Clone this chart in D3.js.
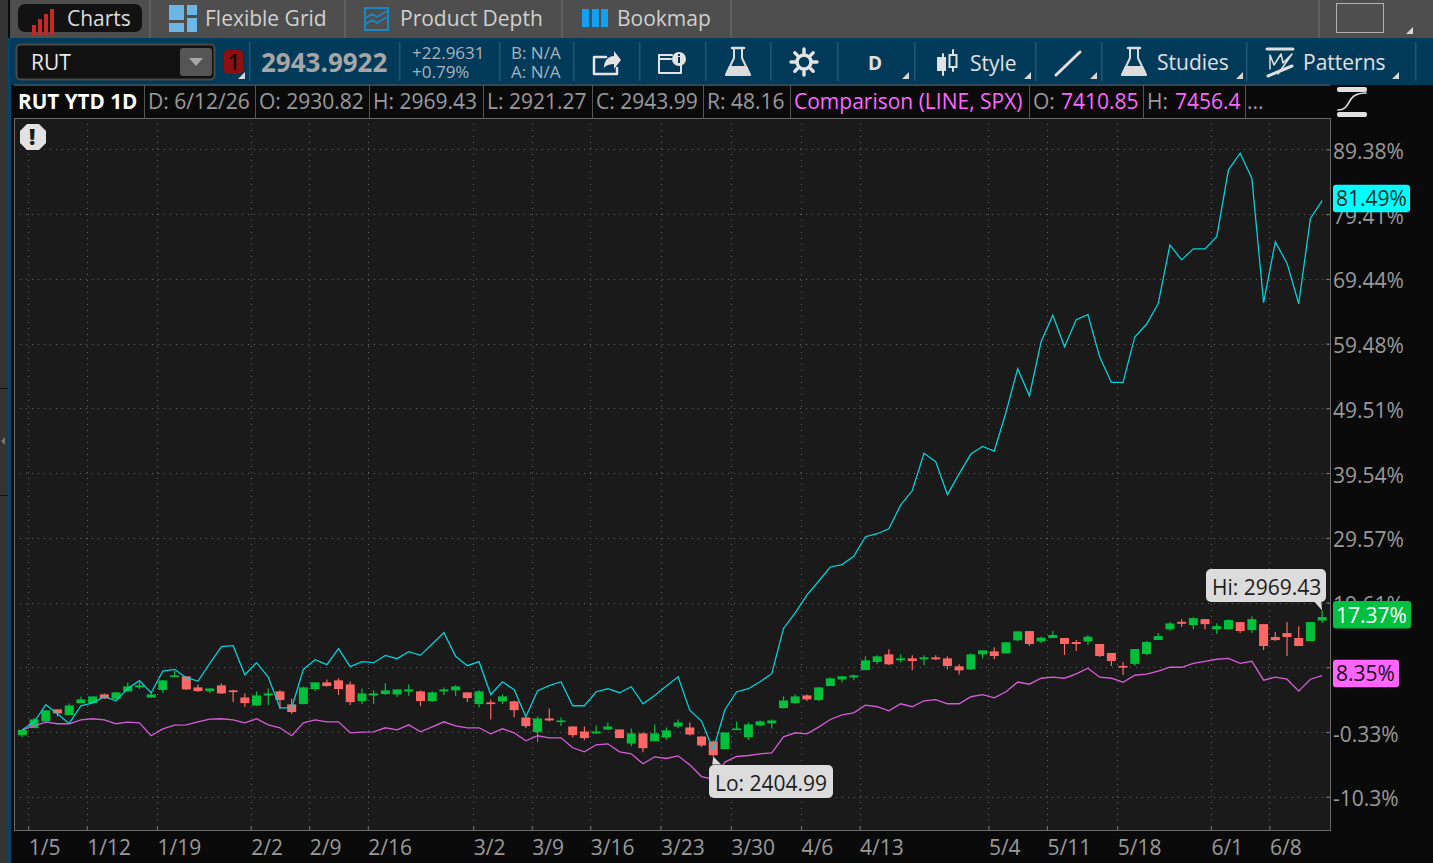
<!DOCTYPE html>
<html lang="en">
<head>
  <meta charset="UTF-8">
  <title>RUT YTD 1D</title>
  <script src="https://d3js.org/d3.v7.min.js"></script>
  <style>
    html, body { margin: 0; padding: 0; background: #0a0a0a; overflow: hidden; }
    svg { display: block; }
    text { font-family: "Open Sans", "Noto Sans", sans-serif; }
  </style>
</head>
<body>
  <div id="chart"></div>

  <script>
    // Candles, in percent from the start of the year (the axis is a percent axis)
    const opens = [-0.81,0.27,1.30,3.15,2.27,4.12,4.12,5.46,4.79,5.92,6.54,4.98,6.13,8.13,8.24,6.54,5.97,6.85,6.08,4.98,3.76,5.30,5.92,3.92,3.97,6.28,7.31,7.62,7.00,4.43,5.30,5.51,5.46,5.92,5.92,4.43,5.92,6.08,5.77,3.97,4.23,4.38,4.38,1.91,-0.35,1.76,1.19,0.52,-0.25,-0.55,0.06,0.06,-2.10,-0.55,-1.74,-1.17,0.52,0.37,-1.02,-1.79,-2.97,-0.04,-1.12,0.68,0.99,3.35,4.12,5.30,4.59,6.74,7.77,8.08,9.21,10.45,11.63,10.70,11.01,10.86,11.16,11.01,9.78,9.31,11.63,12.09,11.78,13.79,15.21,13.62,14.14,14.14,13.52,13.62,13.22,11.84,9.84,10.15,11.68,13.83,15.50,16.64,16.13,17.05,15.50,15.50,16.59,15.36,16.28,14.29,14.90,14.14,13.68,16.84];
    const highs = [0.01,1.86,3.00,3.15,4.07,5.15,5.15,5.61,5.77,7.31,7.31,5.87,7.67,9.06,8.24,7.00,6.38,7.16,6.18,5.61,5.92,6.38,6.08,4.84,6.64,7.36,7.77,7.93,7.46,6.38,6.08,7.16,6.23,7.00,6.08,5.92,6.54,6.85,5.77,6.08,4.69,5.46,4.53,1.91,2.07,3.30,1.91,0.52,0.52,0.68,1.14,0.06,0.22,-0.35,0.83,0.37,1.60,1.14,-1.02,-1.63,-0.40,1.30,1.14,1.45,1.60,5.15,5.46,5.46,6.54,8.08,8.24,8.54,11.32,11.47,12.40,11.63,11.47,11.47,11.47,11.32,10.09,11.78,12.24,12.71,13.48,15.17,15.21,14.34,15.21,14.14,13.83,14.60,13.22,11.84,10.46,12.45,13.68,14.90,16.59,17.05,17.35,17.05,16.43,17.05,16.59,17.51,16.28,15.06,16.59,15.97,16.59,18.38];
    const lows = [-1.12,0.27,1.30,2.07,2.27,4.12,4.02,4.74,4.69,5.92,6.28,4.89,5.67,8.13,6.13,5.82,5.67,5.56,4.28,3.51,3.66,3.81,3.20,2.43,3.97,5.97,6.69,5.36,3.81,3.97,3.97,5.36,5.05,5.20,3.66,4.28,5.36,5.20,4.28,3.45,1.60,3.97,1.96,0.27,-1.89,1.30,0.58,-1.12,-1.58,-0.55,0.06,-1.27,-2.51,-3.43,-1.74,-1.58,0.27,-0.86,-2.66,-4.12,-2.97,-0.04,-1.58,0.52,0.22,3.35,3.97,4.43,4.43,6.74,7.31,7.62,9.21,10.09,9.93,10.39,9.16,9.93,10.70,9.31,8.54,9.31,11.01,10.86,11.78,13.63,12.91,13.37,14.14,11.53,12.14,13.06,11.22,9.84,8.46,9.84,11.53,13.83,15.21,15.82,15.50,15.50,14.75,15.50,14.90,14.90,12.30,13.68,11.38,12.91,13.68,16.46];
    const closes = [0.01,1.60,3.00,2.53,3.76,4.69,5.15,4.84,5.77,6.69,6.85,5.46,7.62,8.39,6.23,5.97,6.38,5.61,5.82,4.12,5.30,5.61,4.59,2.74,6.54,7.31,6.74,6.28,4.28,5.61,5.61,6.08,6.23,6.23,4.43,5.77,6.23,6.69,4.89,5.92,3.97,5.15,3.04,0.58,1.76,1.45,1.45,-0.81,-1.27,-0.25,0.52,-1.27,-0.55,-2.82,-0.55,-0.09,1.14,-0.71,-2.40,-3.90,-0.40,0.22,0.83,1.30,1.45,4.53,5.15,4.69,6.54,7.93,8.24,8.39,10.70,11.32,10.09,11.01,10.60,11.16,10.86,9.83,9.16,11.63,12.24,11.37,13.48,15.17,13.22,14.19,14.60,13.22,13.22,14.34,11.38,10.61,9.59,12.45,13.52,14.44,16.38,16.33,17.20,16.28,15.97,16.90,15.21,17.05,12.91,13.83,14.29,12.91,16.59,17.37];

    // Comparison lines, percent
    const spxPct = [0.01,0.63,1.19,0.94,0.94,1.55,1.71,1.55,0.94,1.19,1.09,-0.91,0.16,0.73,0.78,1.24,1.66,1.71,1.55,1.09,1.71,0.78,0.32,-0.91,1.09,1.55,1.24,1.24,-0.45,-0.35,-0.30,0.32,0.01,0.78,-0.30,0.47,1.24,0.63,0.32,0.32,-0.61,0.16,-0.45,-1.69,-0.91,-1.22,-1.22,-2.76,-3.38,-2.30,-2.15,-3.38,-3.69,-5.23,-4.15,-4.41,-4.00,-5.39,-7.19,-7.60,-4.97,-4.10,-3.95,-3.69,-3.54,-1.07,-0.45,-0.61,0.42,1.60,2.32,2.63,3.81,3.56,2.94,4.02,3.56,4.48,4.64,4.02,4.02,5.10,5.41,4.94,5.87,7.36,7.03,7.95,8.11,7.95,8.62,9.49,8.11,7.95,7.34,8.41,8.57,9.03,9.64,9.64,10.25,10.56,10.87,11.02,10.25,10.56,7.65,8.11,7.80,5.96,7.80,8.35];
    const otherPct = [0.01,1.19,3.87,2.48,0.99,3.71,4.17,5.10,4.48,6.38,7.57,5.72,9.06,9.31,8.03,7.52,10.19,12.81,12.96,8.49,10.34,8.13,3.40,3.40,9.31,10.81,10.03,12.50,9.73,10.50,10.34,11.47,10.96,12.04,11.47,13.22,14.97,11.32,9.88,10.50,5.46,7.41,6.18,2.02,6.02,6.80,7.41,3.71,3.71,5.87,6.33,5.72,6.64,4.02,5.30,6.74,8.18,3.00,1.35,-3.07,3.10,5.87,6.33,7.41,8.65,15.62,18.02,20.74,22.88,25.08,25.44,26.72,29.74,30.20,30.97,34.60,36.85,42.58,41.30,36.23,39.41,42.47,43.65,42.93,48.87,55.62,51.43,59.76,63.85,59.00,63.16,63.93,57.43,53.50,53.50,60.50,62.45,65.62,74.67,72.37,74.06,74.06,75.95,86.23,88.79,84.90,65.77,75.13,71.86,65.62,78.76,81.49];

    // Axis ticks
    const yTicks = [89.38,79.41,69.44,59.48,49.51,39.54,29.57,19.61,9.64,-0.33,-10.3];
    const dateIndex = [1,6,12,20,25,30,39,44,49,55,61,67,72,83,88,94,102,107];
    const dateLabels = ["1/5","1/12","1/19","2/2","2/9","2/16","3/2","3/9","3/16","3/23","3/30","4/6","4/13","5/4","5/11","5/18","6/1","6/8"];

    const lastTags = [
      { label: "81.49%", value: 81.49, fill: "#00ffff", color: "#0a2a2a", w: 77 },
      { label: "17.37%", value: 17.37, fill: "#00c040", color: "#ffffff", w: 78 },
      { label: "8.35%", value: 8.35, fill: "#ff66ff", color: "#1a0a1a", w: 66 }
    ];

    const width = 1433, height = 863;
    const plot = { left: 14, right: 1330, top: 118, bottom: 830 };
    const green = "#00c03c", red = "#ff6666", grey = "#9a9a9a";

    const svg = d3.select("#chart").append("svg").attr("width", width).attr("height", height);

    // --- window chrome ---
    const rect = (x, y, w, h, fill, r) => svg.append("rect").attr("x", x).attr("y", y).attr("width", w).attr("height", h).attr("fill", fill).attr("rx", r || 0);
    const label = (x, y, s, size, fill, weight) => svg.append("text").attr("x", x).attr("y", y).attr("font-size", size).attr("fill", fill).attr("font-weight", weight || 400).text(s);
    const path = (d, fill, stroke, sw) => svg.append("path").attr("d", d).attr("fill", fill || "none").attr("stroke", stroke || "none").attr("stroke-width", sw || 0).attr("stroke-linecap", "round").attr("stroke-linejoin", "round");
    const corner = (x, y) => path(`M${x} ${y}l7 -7v7z`, "#d8d8d8");

    rect(0, 0, width, height, "#0a0a0a");
    rect(0, 0, 8, height, "#333333");
    rect(8, 38, 3, height - 38, "#03466b");
    rect(10, 0, width - 10, 38, "#4e4e4e");
    rect(10, 38, width - 10, 47, "#023a5a");
    path("M5 437l-4 4l4 4z", "#777");
    rect(0, 388, 8, 1, "#111");
    rect(0, 495, 8, 1, "#111");

    // top tabs
    [149, 344, 561, 730, 1318].forEach(x => rect(x, 0, 2, 38, "#5f5f5f"));
    rect(18, 4, 124, 28, "#121212", 7);
    [[32, 22, 8], [38, 16, 14], [44, 11, 19], [50, 6, 24]].forEach(b => rect(b[0], b[1] + 3, 4, b[2] + 2, "#c62828"));
    label(67, 26, "Charts", 21, "#dcdcdc");
    [[169, 4, 15, 15], [187, 4, 10, 10], [187, 17, 10, 14], [169, 22, 15, 9]].forEach(b => rect(b[0], b[1] + 1, b[2] + 0, b[3], "#6cb6e6"));
    label(205, 26, "Flexible Grid", 21, "#d0d0d0");
    rect(365, 8, 23, 22, "none").attr("stroke", "#1b86c4").attr("stroke-width", 2);
    path("M366 18l6 -4l5 3l10 -6M366 24l6 -4l5 3l10 -6", null, "#1b86c4", 2);
    label(400, 26, "Product Depth", 21, "#d0d0d0");
    [582, 592, 601].forEach(x => rect(x, 9, 7, 18, "#12a0f0"));
    label(617, 26, "Bookmap", 21, "#d0d0d0");
    rect(1336.5, 3.5, 47, 29, "none").attr("stroke", "#b0b0b0").attr("stroke-width", 1);
    corner(1406, 34);

    // toolbar
    [249, 399, 499, 573, 639, 705, 770, 837, 914, 1035, 1101, 1246, 1415].forEach(x => rect(x, 42, 1.5, 39, "#1f5675"));
    rect(16.5, 44.5, 198, 35, "#111111", 4).attr("stroke", "#4a4a4a").attr("stroke-width", 2);
    label(31, 70, "RUT", 21, "#e8e8e8");
    rect(180, 48, 32, 28, "#555555", 3);
    path("M189 58h14l-7 8z", "#a8a8a8");
    rect(224, 50, 19, 24, "#8c1010", 4);
    label(228, 70, "1", 21, "#1c0808", 600);
    corner(238, 79);
    label(261, 72, "2943.9922", 26, "#a6a6a6", 700);
    label(412, 59, "+22.9631", 17, "#a9b4bc");
    label(412, 78, "+0.79%", 17, "#a9b4bc");
    label(511, 59, "B: N/A", 17, "#a9b4bc");
    label(511, 78, "A: N/A", 17, "#a9b4bc");

    // share / info icons
    path("M606 57h-12v17h23v-6", null, "#e4e4e4", 2.5);
    path("M604 68c0 -8 5 -12 10 -12v-5l7 9l-7 9v-5c-4 0 -8 1 -10 4z", "#e4e4e4");
    path("M672 55h-13v18h22v-8", null, "#e4e4e4", 2);
    path("M659 59h12", null, "#e4e4e4", 2);
    svg.append("circle").attr("cx", 679).attr("cy", 59).attr("r", 7).attr("fill", "#e4e4e4");
    rect(678, 57, 2, 6, "#023a5a");
    rect(678, 54, 2, 2, "#023a5a");

    const flask = x => {
      path(`M${x - 6} 48h12`, null, "#dcdcdc", 2.5);
      path(`M${x - 4} 49v9l-8 17h24l-8 -17v-9`, null, "#dcdcdc", 2);
      path(`M${x - 9} 66h18l4 9h-26z`, "#dcdcdc");
    };
    flask(738);
    flask(1134);

    // gear
    d3.range(8).forEach(i => {
      const a = i * Math.PI / 4;
      path(`M${804 + 9 * Math.cos(a)} ${62 + 9 * Math.sin(a)}L${804 + 13 * Math.cos(a)} ${62 + 13 * Math.sin(a)}`, null, "#e4e4e4", 3.4);
    });
    svg.append("circle").attr("cx", 804).attr("cy", 62).attr("r", 7).attr("fill", "none").attr("stroke", "#e4e4e4").attr("stroke-width", 3.5);

    label(868, 70, "D", 19, "#e0e0e0", 700);
    corner(902, 79);

    // candle icon + Style
    path("M943 54v21M953 50v21", null, "#e0e0e0", 2);
    rect(937, 57, 9, 14, "#e0e0e0");
    rect(949.5, 55, 7, 12, "#023a5a").attr("stroke", "#e0e0e0").attr("stroke-width", 2);
    label(970, 71, "Style", 21, "#e0e0e0");
    corner(1024, 79);
    path("M1056 75L1080 52", null, "#e0e0e0", 3);
    corner(1090, 79);
    label(1157, 70, "Studies", 21, "#e0e0e0");
    corner(1236, 79);
    path("M1267 49h26", null, "#e0e0e0", 3);
    path("M1270 69v-14l4 10l7 -11l2 9l9 -9l-14 20", null, "#e0e0e0", 1.5);
    path("M1268 76l24 -10", null, "#e0e0e0", 3);
    label(1303, 70, "Patterns", 21, "#e0e0e0");
    corner(1392, 79);

    // study header
    rect(14, 85, 1316, 33, "#0a0a0a");
    rect(14, 84.5, 1316.5, 1.2, "#5a5a5a");
    [144, 255, 369, 483, 592, 703, 790, 1029, 1143, 1245].forEach(x => rect(x, 85, 1, 33, "#555555"));
    label(18, 109, "RUT YTD 1D", 20.7, "#ffffff", 700);
    label(148, 109, "D: 6/12/26", 21, grey);
    label(259, 109, "O: 2930.82", 21, grey);
    label(373, 109, "H: 2969.43", 21, grey);
    label(487, 109, "L: 2921.27", 21, grey);
    label(596, 109, "C: 2943.99", 21, grey);
    label(707, 109, "R: 48.16", 21, grey);
    label(794, 109, "Comparison (LINE, SPX)", 21, "#ff66ff");
    label(1033, 109, "O:", 21, grey);
    label(1061, 109, "7410.85", 21, "#ff66ff");
    label(1147, 109, "H:", 21, grey);
    label(1175, 109, "7456.4", 21, "#ff66ff");
    label(1247, 109, "...", 21, grey);

    // study toggle icon
    rect(1337, 87, 30, 5, "#e0e0e0", 2);
    rect(1337, 112, 30, 5, "#e0e0e0", 2);
    path("M1338 110c8 0 10 -6 13 -11c2 -3 6 -6 15 -6", null, "#e0e0e0", 1.6);

    // --- plot ---
    rect(plot.left, plot.top, plot.right - plot.left, plot.bottom - plot.top, "#1a1a1a");

    const xRange = [16.5, 1328];
    const x = d3.scaleBand().domain(d3.range(closes.length)).range(xRange).paddingInner(0.23).paddingOuter(0.115);
    const xEdge = d3.scaleLinear().domain([0, closes.length]).range(xRange);
    const y = d3.scaleLinear().domain([-0.33, 89.38]).range([732, 149.4]);
    const cx = i => x(i) + x.bandwidth() / 2;

    // dotted grid
    const grid = svg.append("g").attr("stroke", "#646464").attr("stroke-dasharray", "1 5");
    grid.selectAll(".h").data(yTicks).enter().append("line").attr("class", "h")
      .attr("x1", plot.left).attr("x2", plot.right)
      .attr("y1", d => Math.round(y(d)) + 0.5).attr("y2", d => Math.round(y(d)) + 0.5);
    grid.selectAll(".v").data(dateIndex).enter().append("line").attr("class", "v")
      .attr("y1", plot.top).attr("y2", plot.bottom)
      .attr("x1", d => Math.round(xEdge(d)) + 0.5).attr("x2", d => Math.round(xEdge(d)) + 0.5);

    // candles
    const candles = svg.append("g").selectAll("g").data(closes).enter().append("g")
      .attr("fill", (d, i) => d >= opens[i] ? green : red)
      .attr("stroke", (d, i) => d >= opens[i] ? green : red);
    candles.append("line")
      .attr("x1", (d, i) => cx(i)).attr("x2", (d, i) => cx(i))
      .attr("y1", (d, i) => y(highs[i])).attr("y2", (d, i) => y(lows[i]))
      .attr("stroke-width", 1.2);
    candles.append("rect")
      .attr("stroke", "none")
      .attr("x", (d, i) => x(i))
      .attr("width", x.bandwidth())
      .attr("y", (d, i) => y(Math.max(opens[i], d)))
      .attr("height", (d, i) => Math.max(1.5, Math.abs(y(opens[i]) - y(d))));

    // comparison lines
    const line = d3.line().x((d, i) => cx(i)).y(d => y(d));
    svg.append("path").datum(otherPct).attr("fill", "none").attr("stroke", "#00d2da").attr("stroke-width", 1.3).attr("d", line);
    svg.append("path").datum(spxPct).attr("fill", "none").attr("stroke", "#d85cd8").attr("stroke-width", 1.3).attr("d", line);

    // plot frame
    svg.append("path").attr("d", `M${plot.left + 0.5} ${plot.top}V${plot.bottom + 0.5}H${plot.right + 0.5}V${plot.top}M${plot.left} ${plot.top + 0.5}H${plot.right}`)
      .attr("fill", "none").attr("stroke", "#6a6a6a").attr("stroke-width", 1);

    // --- axes ---
    const yAxis = svg.append("g").attr("transform", `translate(${plot.right},0)`)
      .call(d3.axisRight(y).tickValues(yTicks).tickFormat(d => d + "%").tickSizeInner(-4).tickSizeOuter(0).tickPadding(3));
    yAxis.select(".domain").remove();
    yAxis.selectAll("line").attr("stroke", "#777");
    yAxis.selectAll("text").attr("font-size", 21).attr("fill", grey).attr("font-family", null).attr("dy", "0.43em");

    const xAxis = svg.append("g").attr("transform", `translate(0,${plot.bottom})`)
      .call(d3.axisBottom(xEdge).tickValues(dateIndex).tickFormat((d, i) => dateLabels[i]).tickSizeInner(-4).tickSizeOuter(0));
    xAxis.select(".domain").remove();
    xAxis.selectAll("line").attr("stroke", "#777");
    xAxis.selectAll("text").attr("font-size", 21).attr("fill", grey).attr("font-family", null)
      .attr("text-anchor", "start").attr("x", 0).attr("y", 25).attr("dy", 0);

    svg.selectAll(".tick").select("text").attr("font-family", null);

    // last value tags
    lastTags.forEach(t => {
      const mid = y(t.value);
      rect(1333, mid - 16, t.w, 27.5, t.fill, 3);
      label(1336, mid + 5.5, t.label, 21, t.color);
    });

    // high / low callouts
    const hiX = cx(highs.length - 1), hiY = y(d3.max(highs));
    const loI = d3.range(lows.length).find(i => lows[i] === d3.min(lows));
    const loX = cx(loI), loY = y(d3.min(lows));
    path(`M${hiX - 8} ${hiY - 9}L${hiX} ${hiY}L${hiX - 1} ${hiY - 9}z`, "#dcdcdc");
    rect(1206, 569, 120, 33, "#dcdcdc", 5);
    label(1212, 595, "Hi: 2969.43", 21, "#1c1c1c");
    path(`M${loX - 1} ${loY + 8}L${loX} ${loY}L${loX + 8} ${loY + 8}z`, "#dcdcdc");
    rect(709, 765, 124, 33, "#dcdcdc", 5);
    label(715, 791, "Lo: 2404.99", 21, "#1c1c1c");

    // warning badge
    path("M27 124h12l7 7v12l-7 7h-12l-7 -7v-12z", "#e2e2e2");
    label(29, 145, "!", 22, "#1a1a1a", 800);
  </script>
</body>
</html>
